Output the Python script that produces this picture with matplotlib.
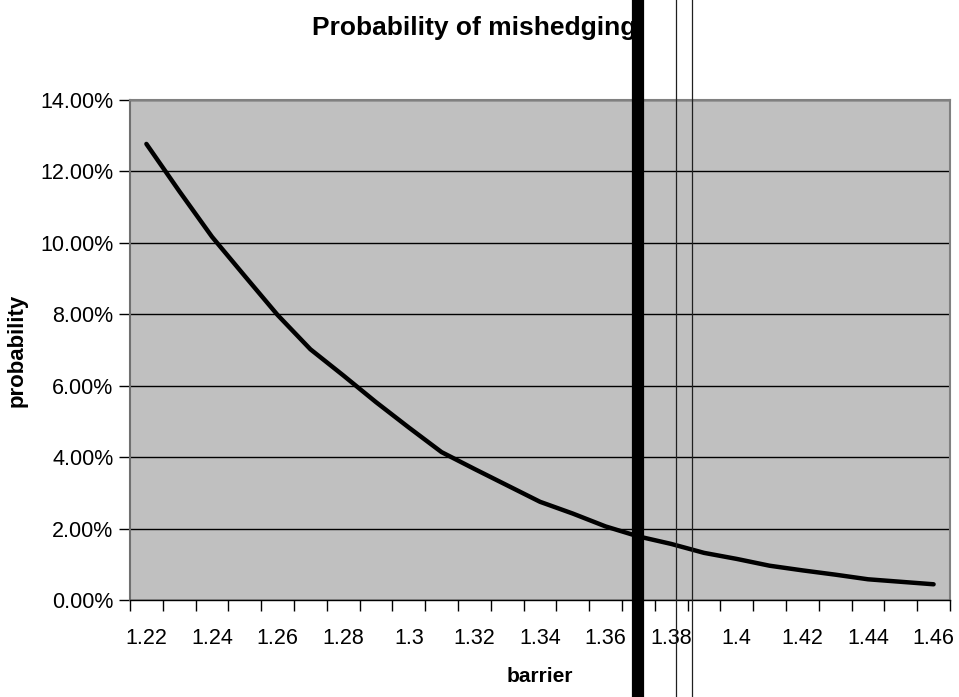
import numpy as np
import matplotlib.pyplot as plt
from matplotlib.ticker import PercentFormatter

plt.rcParams['font.family'] = ['Liberation Sans', 'DejaVu Sans']

# barrier levels (one category every 0.01)
barrier = [1.22, 1.23, 1.24, 1.25, 1.26, 1.27, 1.28, 1.29, 1.30, 1.31,
           1.32, 1.33, 1.34, 1.35, 1.36, 1.37, 1.38, 1.39, 1.40, 1.41,
           1.42, 1.43, 1.44, 1.45, 1.46]
# probability of mishedging, in percent
prob = [12.77, 11.45, 10.17, 9.07, 7.98, 7.02, 6.29, 5.54, 4.83, 4.14,
        3.67, 3.21, 2.75, 2.42, 2.06, 1.78, 1.57, 1.32, 1.15, 0.96,
        0.83, 0.71, 0.58, 0.51, 0.44]

xlabels = ['1.22', '1.24', '1.26', '1.28', '1.3', '1.32', '1.34', '1.36',
           '1.38', '1.4', '1.42', '1.44', '1.46']
yticks = [0, 2, 4, 6, 8, 10, 12, 14]

# vertical marker lines drawn across the whole picture
marker_thick = [1.3699]
marker_thin = [1.3815, 1.3864]

W, H = 959, 697
fig = plt.figure(figsize=(W / 100, H / 100), dpi=100)
ax = fig.add_axes([130 / W, (H - 600) / H, 820 / W, 500 / H])
ax.set_facecolor('#c0c0c0')

ax.plot(barrier, prob, color='black', lw=3.2, solid_capstyle='round', zorder=3)

step = 0.01
ax.set_xlim(barrier[0] - step / 2, barrier[-1] + step / 2)
ax.set_ylim(0, 14)

# ticks at category boundaries, labels on every other category
bounds = np.arange(len(barrier) + 1) * step + barrier[0] - step / 2
ax.set_xticks(bounds)
ax.set_xticklabels([])
ax.set_xticks(barrier[::2], minor=True)
ax.set_xticklabels(xlabels, minor=True)
ax.tick_params(axis='x', which='major', length=8, width=1, color='black', direction='out')
ax.tick_params(axis='x', which='minor', length=0, pad=20, labelsize=15.5)

ax.set_yticks(yticks)
ax.yaxis.set_major_formatter(PercentFormatter(decimals=2))
ax.tick_params(axis='y', length=8, width=1, color='black', direction='out', pad=4, labelsize=15.5)

ax.grid(axis='y', color='black', lw=1)
ax.set_axisbelow(True)

for s in ['top', 'right']:
    ax.spines[s].set_color('#808080')
    ax.spines[s].set_linewidth(1.5)
ax.spines['left'].set_color('#707070')
ax.spines['left'].set_linewidth(1.5)
ax.spines['bottom'].set_color('black')
ax.spines['bottom'].set_linewidth(1)

ax.set_xlabel('barrier', fontsize=15, fontweight='bold', labelpad=13)
ax.set_ylabel('probability', fontsize=16, fontweight='bold', labelpad=9)

ax.text(474 / W, 1 - 28 / H, 'Probability of mishedging', transform=fig.transFigure,
        ha='center', va='center', fontsize=19, fontweight='bold', zorder=3, clip_on=False)

top = 600 / 500
bot = -(H - 600) / 500
for x in marker_thick:
    ax.axvline(x, ymin=bot, ymax=top, color='black', lw=8.8, clip_on=False, zorder=6)
for x in marker_thin:
    ax.axvline(x, ymin=bot, ymax=top, color='#202020', lw=0.9, clip_on=False, zorder=6)

fig.savefig('out.png', dpi=100)
